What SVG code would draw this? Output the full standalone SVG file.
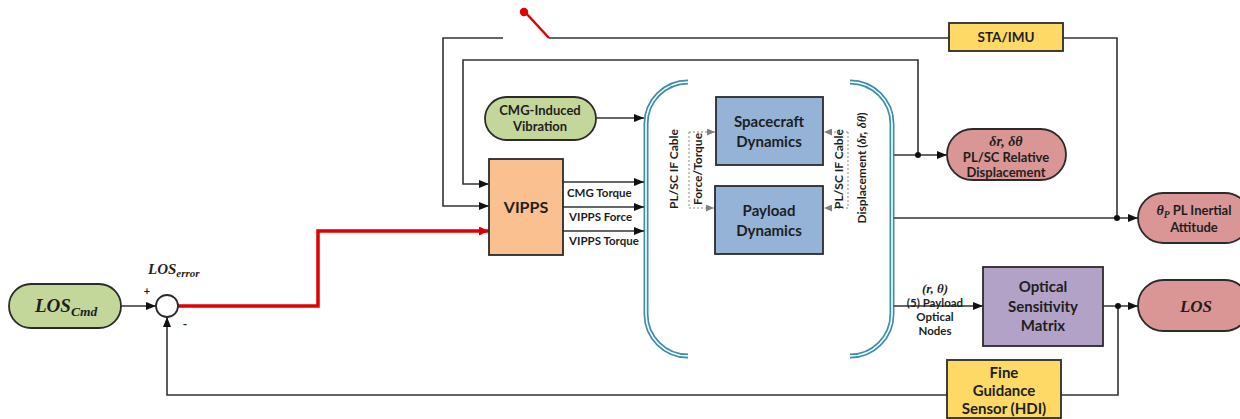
<svg xmlns="http://www.w3.org/2000/svg" width="1240" height="419" viewBox="0 0 1240 419">
  <defs>
    <marker id="arr" markerWidth="10" markerHeight="8" refX="10" refY="4" orient="auto" markerUnits="userSpaceOnUse">
      <path d="M0,0 L10,4 L0,8 z" fill="#111"/>
    </marker>
    <marker id="arrRed" markerWidth="10" markerHeight="9" refX="10" refY="4.5" orient="auto" markerUnits="userSpaceOnUse">
      <path d="M0,0 L10,4.5 L0,9 z" fill="#e00000"/>
    </marker>
    <marker id="arrGray" markerWidth="8" markerHeight="7" refX="8" refY="3.5" orient="auto" markerUnits="userSpaceOnUse">
      <path d="M0,0 L8,3.5 L0,7 z" fill="#808080"/>
    </marker>
  </defs>
  <style>
    .ln { fill: none; stroke: #333; stroke-width: 1.6; }
    .red { fill: none; stroke: #e00000; stroke-width: 3.5; }
    .dash { fill: none; stroke: #8a8a8a; stroke-width: 1; stroke-dasharray: 2 2; }
    .node { stroke: #2b2b2b; stroke-width: 1.8; }
    .green { fill: #c4d79b; }
    .pink { fill: #d99694; }
    .blue { fill: #95b3d7; }
    .yellow { fill: #ffd966; }
    .purple { fill: #b3a2c7; }
    .orange { fill: #fac090; }
    .t { font-family: Lato, "Open Sans", sans-serif; font-weight: bold; fill: #1e1e1e; text-anchor: middle; }
    .s { font-family: Lato, "Open Sans", sans-serif; font-weight: bold; fill: #1e1e1e; font-size: 11.5px; }
    .r { font-family: Lato, "Open Sans", sans-serif; font-weight: bold; fill: #1e1e1e; font-size: 12px; text-anchor: middle; }
    .m { font-family: "Liberation Serif", serif; font-weight: bold; font-style: italic; fill: #1e1e1e; }
    .br-out { fill: none; stroke: #3a8fae; stroke-width: 5; }
    .br-in { fill: none; stroke: #fff; stroke-width: 1.6; }
  </style>

  <!-- plant boundary brackets -->
  <g id="plant-brackets">
    <path class="br-out" d="M688,82 A42,42 0 0 0 646,124 V314 A42,42 0 0 0 688,356"/>
    <path class="br-in" d="M688,82 A42,42 0 0 0 646,124 V314 A42,42 0 0 0 688,356"/>
    <path class="br-out" d="M850,82 A42,42 0 0 1 892,124 V314 A42,42 0 0 1 850,356"/>
    <path class="br-in" d="M850,82 A42,42 0 0 1 892,124 V314 A42,42 0 0 1 850,356"/>
  </g>

  <!-- connectors -->
  <g id="connectors">
    <path class="ln" d="M121,306 H156" marker-end="url(#arr)"/>
    <path class="red" d="M178,306 H318 V231 H489" marker-end="url(#arrRed)"/>
    <path class="ln" d="M948,395 H167 V317" marker-end="url(#arr)"/>
    <path class="ln" d="M1061,395 H1118 V306"/>
    <!-- attitude sensor loop with switch -->
    <path class="ln" d="M949,38 H549"/>
    <path class="ln" d="M503,38 H443 V206 H489" marker-end="url(#arr)"/>
    <path d="M549,38 L525,12" stroke="#e00000" stroke-width="2.5" fill="none"/>
    <circle cx="524" cy="12" r="4.2" fill="#e00000"/>
    <path class="ln" d="M1117,218 V38 H1063"/>
    <!-- relative displacement loop -->
    <path class="ln" d="M918,155 V60 H463 V184 H489" marker-end="url(#arr)"/>
    <!-- actuator outputs -->
    <path class="ln" d="M563,182 H644" marker-end="url(#arr)"/>
    <path class="ln" d="M563,207 H644" marker-end="url(#arr)"/>
    <path class="ln" d="M563,231 H644" marker-end="url(#arr)"/>
    <path class="ln" d="M596,118 H644" marker-end="url(#arr)"/>
    <!-- plant outputs -->
    <path class="ln" d="M894,155 H947" marker-end="url(#arr)"/>
    <path class="ln" d="M894,218 H1138" marker-end="url(#arr)"/>
    <path class="ln" d="M894,306 H983" marker-end="url(#arr)"/>
    <path class="ln" d="M1103,306 H1138" marker-end="url(#arr)"/>
    <circle cx="918" cy="155" r="3" fill="#111"/>
    <circle cx="1117" cy="218" r="3" fill="#111"/>
    <circle cx="1118" cy="306" r="3" fill="#111"/>
    <!-- interface cable couplings -->
    <path class="dash" d="M689,132 V208"/>
    <path class="dash" d="M689,132 H715" marker-end="url(#arrGray)"/>
    <path class="dash" d="M689,208 H714" marker-end="url(#arrGray)"/>
    <path class="dash" d="M848,132 V208"/>
    <path class="dash" d="M848,132 H824" marker-end="url(#arrGray)"/>
    <path class="dash" d="M848,208 H824" marker-end="url(#arrGray)"/>
    <!-- labels -->
    <text class="s" x="567" y="197">CMG Torque</text>
    <text class="s" x="569" y="221">VIPPS Force</text>
    <text class="s" x="569" y="245">VIPPS Torque</text>
    <text class="r" transform="translate(678,169) rotate(-90)">PL/SC IF Cable</text>
    <text class="r" transform="translate(702,169) rotate(-90)">Force/Torque</text>
    <text class="r" transform="translate(843,169) rotate(-90)">PL/SC IF Cable</text>
    <text class="r" transform="translate(866,168) rotate(-90)">Displacement (<tspan font-family="Liberation Serif, serif" font-style="italic">δr, δθ</tspan>)</text>
    <text class="m" x="935" y="293" font-size="13" text-anchor="middle">(r, θ)</text>
    <text class="s" x="935" y="307" text-anchor="middle">(5) Payload</text>
    <text class="s" x="935" y="321" text-anchor="middle">Optical</text>
    <text class="s" x="935" y="335" text-anchor="middle">Nodes</text>
    <text class="t" x="147" y="295" font-size="11">+</text>
    <text class="t" x="185" y="328" font-size="12">-</text>
    <text class="m" x="148" y="274" font-size="15">LOS<tspan font-size="11" dy="3">error</tspan></text>
  </g>

  <g id="los-cmd">
    <rect class="node green" x="9" y="284" width="112" height="44" rx="22"/>
    <text class="m" x="35" y="312" font-size="19">LOS<tspan font-size="13.5" dy="4">Cmd</tspan></text>
  </g>

  <g id="summing-junction">
    <circle class="node" cx="167" cy="306" r="11" fill="#fff" stroke-width="1.4"/>
  </g>

  <g id="vipps">
    <rect class="node orange" x="489" y="159" width="74" height="96"/>
    <text class="t" x="526" y="213" font-size="16">VIPPS</text>
  </g>

  <g id="cmg-vibration">
    <rect class="node green" x="485" y="97" width="111" height="43" rx="21.5"/>
    <text class="t" x="540" y="115" font-size="13">CMG-Induced</text>
    <text class="t" x="540" y="131" font-size="13">Vibration</text>
  </g>

  <g id="spacecraft-dynamics">
    <rect class="node blue" x="716" y="97" width="107" height="68"/>
    <text class="t" x="769" y="127" font-size="15">Spacecraft</text>
    <text class="t" x="769" y="147" font-size="15">Dynamics</text>
  </g>

  <g id="payload-dynamics">
    <rect class="node blue" x="715" y="186" width="108" height="68"/>
    <text class="t" x="769" y="216" font-size="15">Payload</text>
    <text class="t" x="769" y="236" font-size="15">Dynamics</text>
  </g>

  <g id="sta-imu">
    <rect class="node yellow" x="949" y="23" width="114" height="28"/>
    <text class="t" x="1006" y="42" font-size="13.5">STA/IMU</text>
  </g>

  <g id="relative-displacement">
    <rect class="node pink" x="947" y="129" width="119" height="51" rx="25.5"/>
    <text class="m" x="1006" y="146" font-size="14" text-anchor="middle">δr, δθ</text>
    <text class="t" x="1006" y="162" font-size="13">PL/SC Relative</text>
    <text class="t" x="1006" y="177" font-size="13">Displacement</text>
  </g>

  <g id="inertial-attitude">
    <rect class="node pink" x="1138" y="193" width="112" height="50" rx="25"/>
    <text class="t" x="1194" y="215" font-size="13"><tspan class="m" font-size="14">θ<tspan font-size="9.5" dy="3">P</tspan></tspan><tspan dy="-3"> PL Inertial</tspan></text>
    <text class="t" x="1194" y="232" font-size="13">Attitude</text>
  </g>

  <g id="optical-sensitivity">
    <rect class="node purple" x="983" y="267" width="120" height="79"/>
    <text class="t" x="1043" y="292" font-size="15">Optical</text>
    <text class="t" x="1043" y="312" font-size="15">Sensitivity</text>
    <text class="t" x="1043" y="331" font-size="15">Matrix</text>
  </g>

  <g id="los">
    <rect class="node pink" x="1138" y="280" width="112" height="51" rx="25.5"/>
    <text class="m" x="1196" y="312" font-size="17" text-anchor="middle">LOS</text>
  </g>

  <g id="fine-guidance-sensor">
    <rect class="node yellow" x="947" y="360" width="114" height="58"/>
    <text class="t" x="1004" y="378" font-size="15">Fine</text>
    <text class="t" x="1004" y="396" font-size="15">Guidance</text>
    <text class="t" x="1004" y="414" font-size="15">Sensor (HDI)</text>
  </g>
</svg>
